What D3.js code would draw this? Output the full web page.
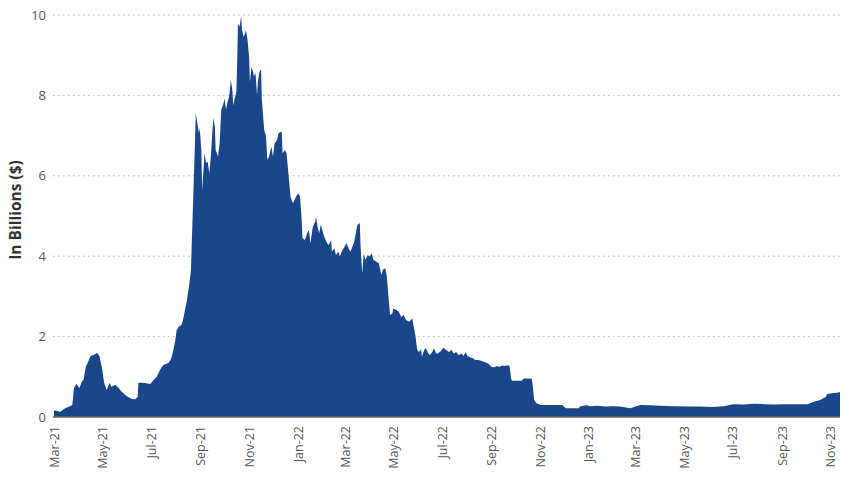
<!DOCTYPE html>
<html><head><meta charset="utf-8">
<script src="https://cdn.jsdelivr.net/npm/d3@7"></script>
<style>
html,body{margin:0;padding:0;background:#fff;}
svg{display:block;font-family:"Open Sans",sans-serif;}
</style></head>
<body>
<svg id="chart" width="850" height="478"></svg>
<script>
const dates = [
"2021-03-01","2021-03-09","2021-03-15","2021-03-21","2021-03-24","2021-03-26","2021-03-29","2021-04-02","2021-04-05","2021-04-07",
"2021-04-10","2021-04-13","2021-04-16","2021-04-22","2021-04-24","2021-04-27","2021-04-30","2021-05-03","2021-05-06","2021-05-10",
"2021-05-12","2021-05-17","2021-05-21","2021-05-25","2021-05-31","2021-06-07","2021-06-11","2021-06-14","2021-06-15","2021-06-19",
"2021-06-25","2021-06-30","2021-07-04","2021-07-08","2021-07-12","2021-07-16","2021-07-23","2021-07-26","2021-07-28","2021-07-31",
"2021-08-02","2021-08-05","2021-08-08","2021-08-10","2021-08-15","2021-08-18","2021-08-20","2021-08-21","2021-08-23","2021-08-25",
"2021-08-26","2021-08-28","2021-08-30","2021-08-31","2021-09-02","2021-09-03","2021-09-05","2021-09-06","2021-09-08","2021-09-10",
"2021-09-12","2021-09-14","2021-09-15","2021-09-17","2021-09-19","2021-09-20","2021-09-23","2021-09-25","2021-09-27","2021-09-30",
"2021-10-01","2021-10-03","2021-10-05","2021-10-07","2021-10-09","2021-10-11","2021-10-12","2021-10-14","2021-10-16","2021-10-17",
"2021-10-18","2021-10-20","2021-10-22","2021-10-23","2021-10-25","2021-10-27","2021-10-28","2021-10-30","2021-11-01","2021-11-02",
"2021-11-04","2021-11-06","2021-11-07","2021-11-09","2021-11-11","2021-11-12","2021-11-14","2021-11-16","2021-11-17","2021-11-20",
"2021-11-22","2021-11-24","2021-11-26","2021-11-29","2021-12-01","2021-12-03","2021-12-06","2021-12-08","2021-12-12","2021-12-13",
"2021-12-16","2021-12-18","2021-12-20","2021-12-23","2021-12-26","2021-12-28","2021-12-31","2022-01-02","2022-01-04","2022-01-06",
"2022-01-07","2022-01-10","2022-01-13","2022-01-15","2022-01-17","2022-01-20","2022-01-23","2022-01-24","2022-01-26","2022-01-28",
"2022-01-30","2022-02-02","2022-02-04","2022-02-07","2022-02-09","2022-02-12","2022-02-13","2022-02-16","2022-02-18","2022-02-21",
"2022-02-23","2022-02-26","2022-02-28","2022-03-03","2022-03-05","2022-03-08","2022-03-10","2022-03-13","2022-03-15","2022-03-17",
"2022-03-20","2022-03-21","2022-03-23","2022-03-25","2022-03-27","2022-03-30","2022-04-01","2022-04-04","2022-04-06","2022-04-10",
"2022-04-13","2022-04-16","2022-04-18","2022-04-21","2022-04-23","2022-04-25","2022-04-27","2022-04-30","2022-05-01","2022-05-05",
"2022-05-08","2022-05-11","2022-05-14","2022-05-17","2022-05-21","2022-05-25","2022-05-26","2022-05-29","2022-05-31","2022-06-02",
"2022-06-05","2022-06-06","2022-06-09","2022-06-11","2022-06-14","2022-06-16","2022-06-19","2022-06-21","2022-06-24","2022-06-26",
"2022-06-30","2022-07-03","2022-07-06","2022-07-10","2022-07-13","2022-07-16","2022-07-19","2022-07-22","2022-07-26","2022-07-28",
"2022-07-31","2022-08-02","2022-08-06","2022-08-09","2022-08-12","2022-08-16","2022-08-19","2022-08-22","2022-08-26","2022-08-29",
"2022-09-01","2022-09-05","2022-09-08","2022-09-11","2022-09-15","2022-09-18","2022-09-22","2022-09-24","2022-09-26","2022-09-27",
"2022-10-03","2022-10-09","2022-10-12","2022-10-16","2022-10-22","2022-10-23","2022-10-25","2022-10-28","2022-11-02","2022-11-15",
"2022-11-29","2022-12-04","2022-12-20","2022-12-22","2022-12-30","2023-01-03","2023-01-12","2023-01-22","2023-02-01","2023-02-10",
"2023-02-23","2023-03-01","2023-03-07","2023-03-20","2023-04-01","2023-04-18","2023-05-05","2023-05-22","2023-06-05","2023-06-20",
"2023-07-02","2023-07-15","2023-07-28","2023-08-10","2023-08-22","2023-09-05","2023-09-16","2023-10-03","2023-10-11","2023-10-19",
"2023-10-26","2023-10-28","2023-11-03","2023-11-11","2023-11-13"
];
const values = [
0.17,0.13,0.22,0.27,0.30,0.72,0.82,0.72,0.88,0.92,
1.25,1.38,1.52,1.57,1.60,1.52,1.25,0.85,0.67,0.85,
0.75,0.80,0.72,0.63,0.52,0.45,0.44,0.50,0.85,0.85,
0.84,0.82,0.92,1.00,1.17,1.29,1.35,1.44,1.59,1.87,
2.16,2.25,2.29,2.41,2.91,3.33,3.66,4.32,5.57,6.81,
7.56,7.31,7.06,7.19,6.64,5.65,6.23,6.57,6.32,6.35,
6.07,6.48,6.81,7.44,7.22,6.64,6.48,6.81,7.64,7.81,
7.93,7.64,7.84,7.97,8.38,8.13,7.76,7.93,8.09,8.80,
9.79,9.71,9.96,9.63,9.46,9.54,9.63,9.38,8.96,8.34,
8.71,8.59,8.47,8.55,8.01,8.34,8.59,8.65,7.89,7.14,
7.01,6.39,6.48,6.72,6.48,6.81,6.89,7.06,7.10,6.56,
6.64,6.56,6.14,5.48,5.32,5.40,5.52,5.56,5.48,4.90,
4.45,4.40,4.57,4.65,4.32,4.73,4.86,4.98,4.73,4.57,
4.78,4.57,4.45,4.32,4.28,4.40,4.11,4.20,4.03,4.11,
3.99,4.15,4.20,4.32,4.24,4.11,4.20,4.36,4.57,4.78,
4.82,4.24,3.57,4.07,3.91,4.03,3.99,4.07,3.91,3.86,
3.82,3.53,3.66,3.70,3.49,2.99,2.54,2.58,2.70,2.66,
2.62,2.49,2.54,2.41,2.37,2.45,2.33,2.00,1.67,1.62,
1.67,1.50,1.67,1.71,1.58,1.54,1.62,1.71,1.58,1.58,
1.64,1.72,1.67,1.62,1.67,1.58,1.62,1.54,1.58,1.52,
1.61,1.52,1.48,1.46,1.42,1.42,1.40,1.38,1.35,1.32,
1.25,1.24,1.27,1.25,1.28,1.27,1.29,1.27,0.96,0.90,
0.90,0.90,0.96,0.96,0.95,0.80,0.42,0.34,0.30,0.30,
0.30,0.22,0.22,0.27,0.29,0.27,0.28,0.26,0.27,0.26,
0.22,0.26,0.30,0.29,0.28,0.27,0.26,0.26,0.25,0.27,
0.32,0.31,0.33,0.32,0.31,0.32,0.32,0.32,0.38,0.42,
0.50,0.57,0.59,0.61,0.62
];
const yTicks = [0,2,4,6,8,10];
const yTitle = "In Billions ($)";

const svg = d3.select("#chart");
const parse = d3.timeParse("%Y-%m-%d");
const data = dates.map((d,i)=>({date:parse(d), value:values[i]}));

const x = d3.scaleTime().domain([parse("2021-03-01"), parse("2023-11-13")]).range([54, 840]);
const y = d3.scaleLinear().domain([0,10]).range([417, 15]);

// gridlines
svg.append("g").selectAll("line").data(yTicks.filter(t=>t>0)).join("line")
  .attr("x1",53).attr("x2",840)
  .attr("y1",d=>y(d)).attr("y2",d=>y(d))
  .attr("stroke","#b5b5b5").attr("stroke-width",1)
  .attr("stroke-dasharray","1.5,3.5");

// area
const area = d3.area().x(d=>x(d.date)).y0(y(0)).y1(d=>y(d.value)).curve(d3.curveLinear);
svg.append("path").datum(data).attr("d",area).attr("fill","#1a478c");

// y axis labels
const yAxis = d3.axisLeft(y).tickValues(yTicks).tickSize(0).tickPadding(0).tickFormat(d3.format("d"));
const yg = svg.append("g").attr("transform","translate(46,0)").call(yAxis);
yg.select(".domain").remove();
yg.selectAll("text").attr("font-size","13px").attr("fill","#555").attr("font-family","Open Sans, sans-serif");

// x axis
const xAxis = d3.axisBottom(x).ticks(d3.timeMonth.every(2)).tickFormat(d3.timeFormat("%b-%y")).tickSize(0).tickPadding(0);
const xg = svg.append("g").attr("transform","translate(0,417)").call(xAxis);
xg.select(".domain").attr("stroke","#666").attr("stroke-width",1.5).attr("d","M53,0H840");
xg.selectAll("text")
  .attr("font-size","12.5px").attr("fill","#555").attr("font-family","Open Sans, sans-serif")
  .attr("text-anchor","end").attr("dy","0.35em")
  .attr("transform","translate(0,9) rotate(-90)")
  .attr("x",0).attr("y",0);

// y title
svg.append("text").attr("transform","translate(21,210) rotate(-90)")
  .attr("text-anchor","middle").attr("font-size","15.5px").attr("font-weight","bold")
  .attr("fill","#333").text(yTitle);
</script>
</body></html>
